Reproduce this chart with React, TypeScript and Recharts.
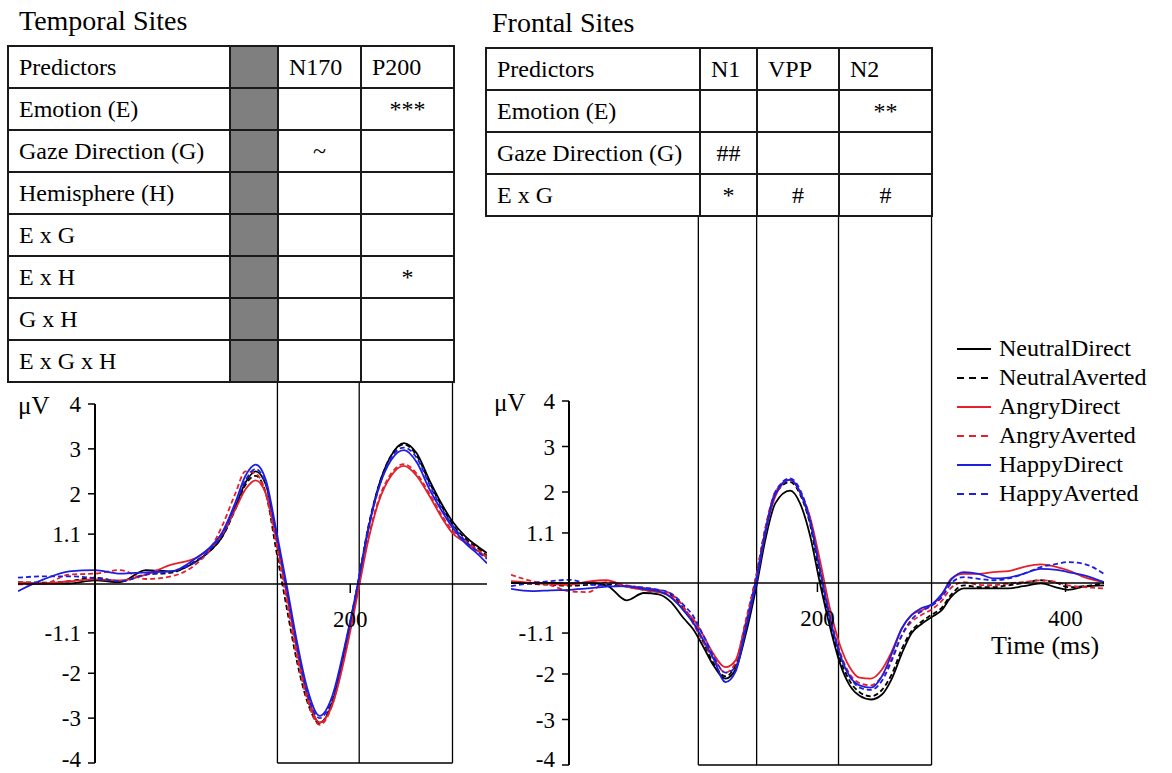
import React from 'react'
import { LineChart, Line, XAxis, YAxis, ReferenceLine } from 'recharts'

const FONT = '"Liberation Serif", "Times New Roman", serif'

// ---- temporal sites (left panel) ----
const leftTimes = [-60, -40, -20, 0, 20, 40, 60, 80, 90, 100, 110, 118, 126, 134, 142, 150, 158, 166, 176, 186, 196, 206, 214, 222, 232, 242, 252, 262, 272, 280, 290, 300, 307]
const leftND = [0.01, 0, 0, 0.07, 0.03, 0.3, 0.27, 0.5, 0.72, 1.05, 1.7, 2.25, 2.5, 2.2, 1.1, -0.1, -1.4, -2.45, -3.1, -2.65, -1.45, -0.05, 1.2, 2.15, 2.85, 3.13, 2.9, 2.3, 1.75, 1.38, 1.05, 0.82, 0.68]
const leftNA = [0.03, 0.02, 0.05, 0.13, 0.05, 0.2, 0.24, 0.52, 0.72, 1.05, 1.65, 2.2, 2.4, 2.0, 0.75, -0.5, -1.7, -2.6, -3.12, -2.6, -1.4, 0.0, 1.25, 2.15, 2.85, 3.1, 2.85, 2.25, 1.7, 1.32, 1.0, 0.78, 0.62]
const leftAD = [0.03, 0.0, 0.05, 0.09, 0.07, 0.2, 0.42, 0.58, 0.78, 1.1, 1.65, 2.1, 2.3, 2.0, 1.0, -0.2, -1.45, -2.45, -3.1, -2.7, -1.6, -0.2, 0.95, 1.8, 2.4, 2.62, 2.4, 1.95, 1.45, 1.12, 0.92, 0.72, 0.58]
const leftAA = [-0.02, -0.01, 0.2, 0.22, 0.3, 0.1, 0.16, 0.45, 0.75, 1.3, 2.0, 2.5, 2.45, 2.0, 0.9, -0.35, -1.6, -2.55, -3.15, -2.7, -1.55, -0.15, 1.0, 1.85, 2.45, 2.66, 2.45, 2.0, 1.5, 1.18, 0.95, 0.75, 0.6]
const leftHD = [-0.17, 0.09, 0.27, 0.3, 0.22, 0.25, 0.27, 0.58, 0.8, 1.15, 1.8, 2.4, 2.65, 2.3, 1.2, 0.0, -1.25, -2.3, -2.95, -2.5, -1.35, 0.0, 1.2, 2.1, 2.75, 2.97, 2.7, 2.1, 1.6, 1.25, 0.9, 0.65, 0.45]
const leftHA = [0.13, 0.16, 0.16, 0.12, 0.05, 0.2, 0.27, 0.5, 0.75, 1.1, 1.75, 2.3, 2.55, 2.2, 1.1, -0.1, -1.35, -2.4, -3.0, -2.55, -1.4, 0.0, 1.2, 2.1, 2.8, 3.03, 2.8, 2.2, 1.65, 1.3, 0.95, 0.7, 0.55]
const leftWindows = [143, 207, 280]
const leftXTicks = [200]

// ---- frontal sites (right panel) ----
const rightTimes = [-47, -30, -15, 0, 15, 30, 46, 60, 72, 82, 92, 100, 108, 116, 126, 134, 142, 151, 158, 166, 178, 186, 194, 202, 210, 218, 226, 234, 243, 252, 260, 268, 276, 284, 292, 300, 308, 318, 330, 342, 354, 366, 380, 393, 402, 415, 431]
const rightND = [0.0, 0.0, 0.0, -0.01, 0.0, -0.05, -0.38, -0.22, -0.25, -0.42, -0.77, -1.02, -1.4, -1.8, -2.1, -1.9, -1.15, -0.05, 0.95, 1.75, 2.03, 1.75, 1.05, 0.0, -0.95, -1.75, -2.25, -2.48, -2.56, -2.45, -2.1, -1.55, -1.1, -0.9, -0.75, -0.6, -0.3, -0.12, -0.12, -0.12, -0.12, -0.07, -0.01, -0.1, -0.15, -0.08, -0.05]
const rightNA = [0.0, -0.02, -0.04, -0.06, -0.04, -0.03, -0.08, -0.15, -0.2, -0.26, -0.55, -0.85, -1.3, -1.75, -2.05, -1.8, -0.9, 0.2, 1.2, 1.95, 2.22, 1.95, 1.3, 0.15, -0.85, -1.65, -2.15, -2.4, -2.49, -2.35, -2.0, -1.45, -1.05, -0.85, -0.7, -0.55, -0.25, -0.05, -0.09, -0.09, -0.05, 0.0, 0.06, 0.0, -0.09, -0.07, 0.0]
const rightAD = [0.04, 0.0, -0.02, -0.04, 0.03, 0.06, -0.08, -0.15, -0.2, -0.3, -0.58, -0.8, -1.15, -1.55, -1.85, -1.7, -0.9, 0.1, 1.1, 1.9, 2.27, 2.0, 1.45, 0.5, -0.55, -1.35, -1.85, -2.08, -2.1, -1.9, -1.5, -1.0, -0.7, -0.6, -0.48, -0.28, 0.1, 0.2, 0.2, 0.24, 0.26, 0.35, 0.41, 0.35, 0.28, 0.13, 0.02]
const rightAA = [0.18, 0.04, -0.05, -0.18, -0.2, 0.02, -0.05, -0.11, -0.15, -0.24, -0.52, -0.9, -1.3, -1.65, -1.97, -1.75, -0.85, 0.2, 1.2, 2.0, 2.27, 2.0, 1.4, 0.35, -0.7, -1.5, -2.0, -2.2, -2.25, -2.05, -1.65, -1.15, -0.85, -0.7, -0.58, -0.4, -0.1, 0.02, -0.04, -0.05, -0.01, 0.02, 0.06, 0.02, -0.05, -0.09, -0.12]
const rightHD = [-0.13, -0.18, -0.16, -0.15, -0.12, -0.08, -0.07, -0.13, -0.18, -0.32, -0.6, -0.88, -1.25, -1.65, -2.18, -1.95, -1.05, 0.05, 1.1, 1.95, 2.27, 2.0, 1.35, 0.3, -0.75, -1.55, -2.05, -2.25, -2.3, -2.05, -1.55, -1.0, -0.7, -0.55, -0.47, -0.25, 0.08, 0.24, 0.2, 0.1, 0.12, 0.2, 0.31, 0.29, 0.24, 0.17, 0.02]
const rightHA = [-0.07, 0.0, 0.04, 0.07, -0.02, -0.06, -0.07, -0.1, -0.15, -0.23, -0.48, -0.73, -1.15, -1.6, -1.97, -1.85, -0.95, 0.15, 1.15, 2.0, 2.3, 2.05, 1.4, 0.3, -0.75, -1.55, -2.05, -2.3, -2.35, -2.15, -1.7, -1.15, -0.8, -0.62, -0.5, -0.32, 0.0, 0.13, 0.09, 0.06, 0.1, 0.2, 0.35, 0.42, 0.46, 0.42, 0.2]
const rightWindows = [104, 151, 217, 292]
const rightXTicks = [200, 400]

const yTicks = [4, 3, 2, 1.1, -1.1, -2, -3, -4]

const SERIES = [
  { key: 'ND', name: 'NeutralDirect', color: '#000000', dash: undefined },
  { key: 'NA', name: 'NeutralAverted', color: '#000000', dash: '5 3' },
  { key: 'AD', name: 'AngryDirect', color: '#e4202a', dash: undefined },
  { key: 'AA', name: 'AngryAverted', color: '#e4202a', dash: '5 3' },
  { key: 'HD', name: 'HappyDirect', color: '#1e1ee0', dash: undefined },
  { key: 'HA', name: 'HappyAverted', color: '#1e1ee0', dash: '5 3' },
]

// significance tables
const temporalHeader = ['Predictors', '', 'N170', 'P200']
const temporalRows = [
  ['Emotion (E)', '', '', '***'],
  ['Gaze Direction (G)', '', '~', ''],
  ['Hemisphere (H)', '', '', ''],
  ['E x G', '', '', ''],
  ['E x H', '', '', '*'],
  ['G x H', '', '', ''],
  ['E x G x H', '', '', ''],
]
const frontalHeader = ['Predictors', 'N1', 'VPP', 'N2']
const frontalRows = [
  ['Emotion (E)', '', '', '**'],
  ['Gaze Direction (G)', '##', '', ''],
  ['E x G', '*', '#', '#'],
]

function buildRows(times: number[], sets: Record<string, number[]>) {
  return times.map((t, i) => {
    const row: Record<string, number> = { t }
    Object.keys(sets).forEach(k => (row[k] = sets[k][i]))
    return row
  })
}

const leftData = buildRows(leftTimes, { ND: leftND, NA: leftNA, AD: leftAD, AA: leftAA, HD: leftHD, HA: leftHA })
const rightData = buildRows(rightTimes, { ND: rightND, NA: rightNA, AD: rightAD, AA: rightAA, HD: rightHD, HA: rightHA })

// y tick label; the lowest one is lifted a little so it stays inside the page
function AmpTick(props: any) {
  const { x, y, payload, lift = 0 } = props
  const dy = payload.value === -4 ? -lift : 0
  return (
    <text x={x} y={y + dy} dy="0.355em" textAnchor="end" fill="#000" fontSize={23} fontFamily={FONT}>
      {payload.value}
    </text>
  )
}

interface PanelProps {
  data: Record<string, number>[]
  domain: [number, number]
  left: number
  width: number
  top: number
  height: number
  windows: number[]
  windowTop: number
  xTicks: number[]
}

function Panel({ data, domain, left, width, top, height, windows, windowTop, xTicks }: PanelProps) {
  const padTop = Math.round(((windowTop - 4) / 8) * height) + 6
  const zeroY = top + height / 2
  const x0 = left + ((0 - domain[0]) / (domain[1] - domain[0])) * width
  const lift = Math.max(0, top + height - 759)
  const axisStyle = { stroke: '#000', strokeWidth: 1.5 }
  return (
    <>
      {/* waveforms + analysis windows */}
      <div style={{ position: 'absolute', left, top: top - padTop }}>
        <LineChart width={width} height={height + padTop + 4} data={data} margin={{ top: padTop, right: 0, bottom: 4, left: 0 }}>
          <XAxis type="number" dataKey="t" domain={domain} hide />
          <YAxis type="number" domain={[-4, 4]} hide />
          {windows.map(w => (
            <ReferenceLine key={w} segment={[{ x: w, y: -4 }, { x: w, y: windowTop }]} ifOverflow="visible" stroke="#000" strokeWidth={1.3} />
          ))}
          <ReferenceLine
            segment={[{ x: windows[0], y: -4 }, { x: windows[windows.length - 1], y: -4 }]}
            ifOverflow="visible"
            stroke="#000"
            strokeWidth={1.3}
          />
          {SERIES.map(s => (
            <Line
              key={s.key}
              dataKey={s.key}
              type="monotone"
              stroke={s.color}
              strokeWidth={1.8}
              strokeDasharray={s.dash}
              dot={false}
              activeDot={false}
              isAnimationActive={false}
            />
          ))}
        </LineChart>
      </div>

      {/* time axis through zero */}
      <div style={{ position: 'absolute', left, top: zeroY - 20 }}>
        <LineChart width={width} height={80} data={data} margin={{ top: 10, right: 0, bottom: 0, left: 0 }}>
          <XAxis
            type="number"
            dataKey="t"
            domain={domain}
            ticks={xTicks}
            interval={0}
            height={60}
            tickSize={9}
            tickMargin={18}
            axisLine={axisStyle}
            tickLine={axisStyle}
            tick={{ fill: '#000', fontSize: 23, fontFamily: FONT }}
          />
          <YAxis type="number" dataKey="ND" domain={[-4, 4]} hide />
        </LineChart>
      </div>

      {/* amplitude axis at t = 0 */}
      <div style={{ position: 'absolute', left: x0 - 80, top: top - 20 }}>
        <LineChart width={90} height={height + 40} data={data} margin={{ top: 20, right: 0, bottom: 20, left: 0 }}>
          <XAxis type="number" dataKey="t" domain={domain} hide />
          <YAxis
            type="number"
            dataKey="ND"
            domain={[-4, 4]}
            ticks={yTicks}
            interval={0}
            width={80}
            tickSize={7}
            tickMargin={7}
            axisLine={{ stroke: '#000', strokeWidth: 2 }}
            tickLine={axisStyle}
            tick={<AmpTick lift={lift} />}
          />
        </LineChart>
      </div>
    </>
  )
}

const cell = (w: number, extra: React.CSSProperties = {}): React.CSSProperties => ({
  width: w,
  height: 42,
  border: '2px solid #1a1a1a',
  padding: '0 0 0 10px',
  boxSizing: 'border-box',
  fontSize: 24,
  fontWeight: 400,
  textAlign: 'left',
  whiteSpace: 'nowrap',
  ...extra,
})

function SigTable({ left, top, cols, header, rows, shade }: { left: number; top: number; cols: number[]; header: string[]; rows: string[][]; shade?: number }) {
  const bg = (i: number) => (i === shade ? '#7f7f7f' : 'transparent')
  return (
    <table style={{ position: 'absolute', left, top, borderCollapse: 'collapse', tableLayout: 'fixed', fontFamily: FONT }}>
      <tbody>
        <tr>
          {header.map((h, i) => (
            <td key={i} style={cell(cols[i], { background: bg(i) })}>{h}</td>
          ))}
        </tr>
        {rows.map((r, ri) => (
          <tr key={ri}>
            {r.map((c, i) => (
              <td key={i} style={cell(cols[i], i === 0 ? { background: bg(i) } : { background: bg(i), textAlign: 'center', padding: 0 })}>{c}</td>
            ))}
          </tr>
        ))}
      </tbody>
    </table>
  )
}

function LegendBox() {
  return (
    <div style={{ position: 'absolute', left: 956, top: 334, fontFamily: FONT }}>
      {SERIES.map(s => (
        <div key={s.key} style={{ display: 'flex', alignItems: 'center', height: 29 }}>
          <svg width={36} height={4} style={{ display: 'block' }}>
            <line x1={1} y1={2} x2={35} y2={2} stroke={s.color} strokeWidth={2} strokeDasharray={s.dash ? '7 5' : undefined} />
          </svg>
          <span style={{ marginLeft: 7, fontSize: 24, lineHeight: '29px' }}>{s.name}</span>
        </div>
      ))}
    </div>
  )
}

const textAbs = (left: number, top: number, size: number): React.CSSProperties => ({
  position: 'absolute',
  left,
  top,
  fontSize: size,
  lineHeight: 1,
  fontFamily: FONT,
  whiteSpace: 'nowrap',
})

export default function App() {
  return (
    <div style={{ position: 'absolute', left: 0, top: 0, width: 1172, height: 773, background: '#fff', color: '#000', overflow: 'hidden' }}>
      <Panel data={leftData} domain={[-60, 307]} left={18} width={469} top={404} height={359} windows={leftWindows} windowTop={4.47} xTicks={leftXTicks} />
      <Panel data={rightData} domain={[-47, 431]} left={511} width={593} top={401} height={364} windows={rightWindows} windowTop={8.09} xTicks={rightXTicks} />

      <div style={textAbs(19, 7, 28)}>Temporal Sites</div>
      <div style={textAbs(492, 9, 28)}>Frontal Sites</div>

      <SigTable left={7} top={45} cols={[222, 48, 83, 93]} header={temporalHeader} rows={temporalRows} shade={1} />
      <SigTable left={485} top={47} cols={[214, 57, 82, 93]} header={frontalHeader} rows={frontalRows} />

      <div style={textAbs(18, 393, 25)}>μV</div>
      <div style={textAbs(494, 390, 25)}>μV</div>
      <div style={{ ...textAbs(985, 633, 26), width: 120, textAlign: 'center' }}>Time (ms)</div>

      <LegendBox />
    </div>
  )
}
